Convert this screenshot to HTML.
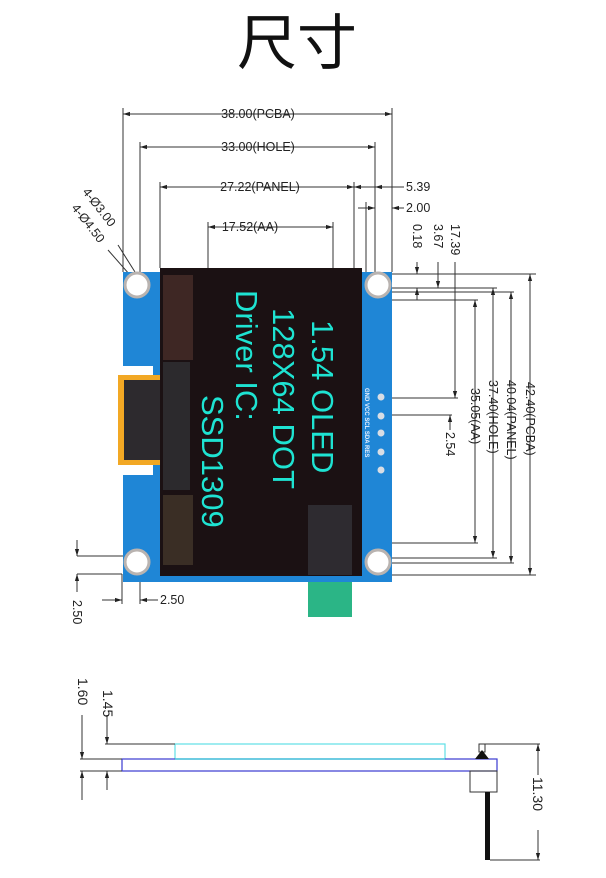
<!DOCTYPE html>
<html><head><meta charset="utf-8"><style>
html,body{margin:0;padding:0;background:#fff;}
svg{display:block;}
text{font-family:"Liberation Sans",sans-serif;fill:#222;}
text.cy{fill:#1ee3d2;font-size:31px;}
text.pin{fill:#e8f0ff;font-size:6px;font-weight:bold;}
text.t{font-family:"Noto Sans CJK SC",sans-serif;font-size:60px;fill:#111;}
</style></head><body>
<svg width="606" height="878" viewBox="0 0 606 878" xmlns="http://www.w3.org/2000/svg">
<defs>
<marker id="a" viewBox="0 0 10 10" refX="10" refY="5" markerWidth="7" markerHeight="7" orient="auto-start-reverse"><path d="M0,2 L10,5 L0,8 z" fill="#222"/></marker>
</defs>
<text class="t" x="297" y="64" text-anchor="middle">尺寸</text>

<g stroke="#333" stroke-width="1" fill="none">
<line x1="123" y1="114" x2="392" y2="114" marker-start="url(#a)" marker-end="url(#a)"/>
<line x1="140" y1="147" x2="375" y2="147" marker-start="url(#a)" marker-end="url(#a)"/>
<line x1="160" y1="187" x2="354" y2="187" marker-start="url(#a)" marker-end="url(#a)"/>
<line x1="208" y1="227" x2="333" y2="227" marker-start="url(#a)" marker-end="url(#a)"/>
<line x1="123" y1="108" x2="123" y2="272"/>
<line x1="392" y1="108" x2="392" y2="272"/>
<line x1="140" y1="142" x2="140" y2="283"/>
<line x1="375" y1="142" x2="375" y2="283"/>
<line x1="160" y1="182" x2="160" y2="268"/>
<line x1="354" y1="182" x2="354" y2="268"/>
<line x1="208" y1="222" x2="208" y2="268"/>
<line x1="333" y1="222" x2="333" y2="268"/>
<line x1="366" y1="202" x2="366" y2="272"/>
<line x1="354" y1="187" x2="404" y2="187" marker-start="url(#a)"/>
<line x1="392" y1="187" x2="375" y2="187" marker-end="url(#a)"/>
<line x1="358" y1="208" x2="375" y2="208" marker-end="url(#a)"/>
<line x1="404" y1="208" x2="392" y2="208" marker-end="url(#a)"/>
<line x1="108" y1="250" x2="130" y2="275"/>
<line x1="118" y1="245" x2="135" y2="272"/>
<line x1="392" y1="274" x2="536" y2="274"/>
<line x1="392" y1="288" x2="497" y2="288"/>
<line x1="392" y1="292" x2="514" y2="292"/>
<line x1="392" y1="300" x2="478" y2="300"/>
<line x1="392" y1="575" x2="536" y2="575"/>
<line x1="392" y1="558" x2="497" y2="558"/>
<line x1="392" y1="563" x2="514" y2="563"/>
<line x1="392" y1="543" x2="478" y2="543"/>
<line x1="530" y1="274" x2="530" y2="575" marker-start="url(#a)" marker-end="url(#a)"/>
<line x1="511" y1="292" x2="511" y2="563" marker-start="url(#a)" marker-end="url(#a)"/>
<line x1="493" y1="288" x2="493" y2="558" marker-start="url(#a)" marker-end="url(#a)"/>
<line x1="475" y1="300" x2="475" y2="543" marker-start="url(#a)" marker-end="url(#a)"/>
<line x1="417" y1="262" x2="417" y2="274" marker-end="url(#a)"/>
<line x1="417" y1="300" x2="417" y2="288" marker-end="url(#a)"/>
<line x1="438" y1="262" x2="438" y2="288" marker-end="url(#a)"/>
<line x1="455" y1="262" x2="455" y2="398" marker-end="url(#a)"/>
<line x1="392" y1="398" x2="458" y2="398"/>
<line x1="392" y1="415" x2="452" y2="415"/>
<line x1="450" y1="430" x2="450" y2="415" marker-end="url(#a)"/>
<line x1="77" y1="556" x2="140" y2="556"/>
<line x1="140" y1="556" x2="140" y2="604"/>
<line x1="77" y1="574" x2="122" y2="574"/>
<line x1="122" y1="574" x2="122" y2="604"/>
<line x1="77" y1="540" x2="77" y2="556" marker-end="url(#a)"/>
<line x1="77" y1="592" x2="77" y2="574" marker-end="url(#a)"/>
<line x1="102" y1="600" x2="122" y2="600" marker-end="url(#a)"/>
<line x1="158" y1="600" x2="140" y2="600" marker-end="url(#a)"/>
</g>

<g font-size="12.5">
<text x="258" y="118" text-anchor="middle">38.00(PCBA)</text>
<text x="258" y="151" text-anchor="middle">33.00(HOLE)</text>
<text x="260" y="191" text-anchor="middle">27.22(PANEL)</text>
<text x="250" y="231" text-anchor="middle">17.52(AA)</text>
<text x="406" y="191">5.39</text>
<text x="406" y="212">2.00</text>
<text x="160" y="604">2.50</text>
<text transform="translate(82,192) rotate(52)">4-Ø3.00</text>
<text transform="translate(71,208) rotate(52)">4-Ø4.50</text>
<text transform="translate(413,224) rotate(90)">0.18</text>
<text transform="translate(434,224) rotate(90)">3.67</text>
<text transform="translate(451,224) rotate(90)">17.39</text>
<text transform="translate(446,432) rotate(90)">2.54</text>
<text transform="translate(471,388) rotate(90)">35.05(AA)</text>
<text transform="translate(489,380) rotate(90)">37.40(HOLE)</text>
<text transform="translate(507,380) rotate(90)">40.04(PANEL)</text>
<text transform="translate(526,382) rotate(90)">42.40(PCBA)</text>
<text transform="translate(73,600) rotate(90)">2.50</text>
</g>

<path d="M123,272 H392 V582 H123 V475 H153 V366 H123 Z" fill="#1f86d6"/>
<rect x="118" y="375" width="45" height="90" fill="#f2a824"/>
<rect x="124" y="380" width="39" height="80" fill="#2d2a2e"/>
<rect x="160" y="268" width="202" height="308" fill="#1b1113"/>
<rect x="163" y="275" width="30" height="85" fill="#3e2724"/>
<rect x="163" y="495" width="30" height="70" fill="#3a2e25"/>
<rect x="163" y="362" width="27" height="128" fill="#2c2a2d"/>
<rect x="308" y="505" width="44" height="70" fill="#2e2b30"/>
<rect x="308" y="582" width="44" height="35" fill="#2bb586"/>
<g fill="#fff" stroke="#b9b3b0" stroke-width="3">
<circle cx="137" cy="285" r="12"/>
<circle cx="378" cy="285" r="12"/>
<circle cx="137" cy="562" r="12"/>
<circle cx="378" cy="562" r="12"/>
</g>
<g fill="#d8dde4">
<circle cx="381" cy="397" r="3.5"/><circle cx="381" cy="416" r="3.5"/><circle cx="381" cy="433" r="3.5"/><circle cx="381" cy="452" r="3.5"/><circle cx="381" cy="470" r="3.5"/>
</g>
<text class="pin" transform="translate(365,388) rotate(90)">GND VCC SCL SDA RES</text>
<text class="cy" transform="translate(312,320) rotate(90)">1.54  OLED</text>
<text class="cy" transform="translate(273,308) rotate(90)">128X64 DOT</text>
<text class="cy" transform="translate(236,290) rotate(90)">Driver  IC:</text>
<text class="cy" transform="translate(202,395) rotate(90)">SSD1309</text>

<g fill="none" stroke-width="1.2">
<rect x="175" y="744" width="270" height="15" stroke="#5fe0e6"/>
<rect x="122" y="759" width="375" height="12" stroke="#3a3ad0"/>
<line x1="175" y1="759" x2="445" y2="759" stroke="#40c8d8"/>
</g>
<g stroke="#333" stroke-width="1" fill="none">
<line x1="105" y1="744" x2="175" y2="744"/>
<line x1="80" y1="759" x2="122" y2="759"/>
<line x1="80" y1="771" x2="122" y2="771"/>
<line x1="107" y1="715" x2="107" y2="744" marker-end="url(#a)"/>
<line x1="107" y1="790" x2="107" y2="771" marker-end="url(#a)"/>
<line x1="82" y1="715" x2="82" y2="759" marker-end="url(#a)"/>
<line x1="82" y1="800" x2="82" y2="771" marker-end="url(#a)"/>
<line x1="485" y1="744" x2="540" y2="744"/>
<line x1="490" y1="860" x2="540" y2="860"/>
<line x1="538" y1="775" x2="538" y2="744" marker-end="url(#a)"/>
<line x1="538" y1="830" x2="538" y2="860" marker-end="url(#a)"/>
<rect x="479" y="744" width="6" height="8"/>
<rect x="470" y="771" width="27" height="21"/>
</g>
<path d="M475,759 L482,750 L489,759 Z" fill="#111"/>
<rect x="485" y="792" width="5" height="68" fill="#111"/>
<g font-size="14">
<text transform="translate(103,690) rotate(90)">1.45</text>
<text transform="translate(78,678) rotate(90)">1.60</text>
<text transform="translate(533,777) rotate(90)">11.30</text>
</g>
</svg>
</body></html>
